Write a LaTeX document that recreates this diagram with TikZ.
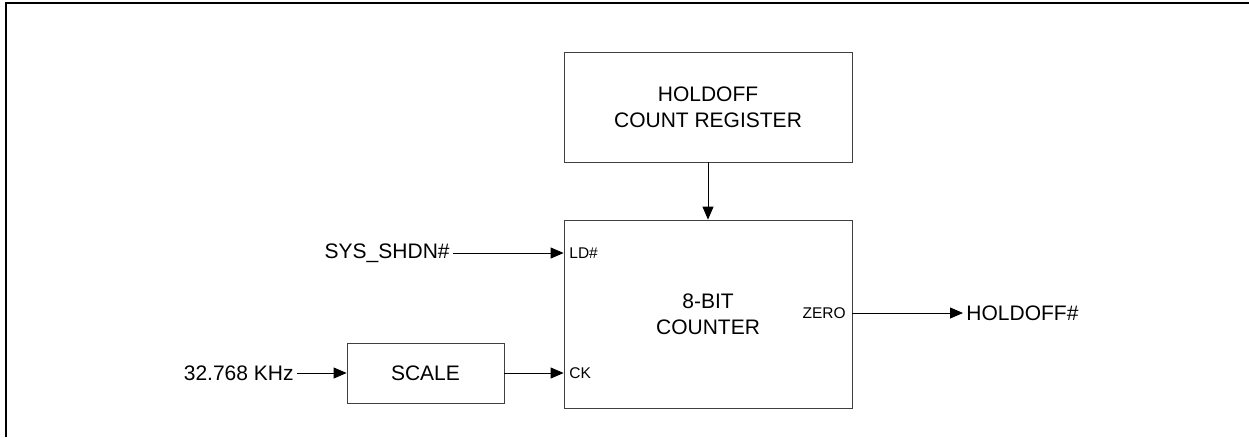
\documentclass[tikz,border=0pt]{standalone}
\usepackage{fontspec}
\setmainfont{Liberation Sans}
\usetikzlibrary{arrows.meta,positioning}

\begin{document}
\begin{tikzpicture}[x=1pt,y=-1pt,line width=0.8pt,>={Triangle[length=13pt,width=11pt]},
  blk/.style={draw=black!75,rectangle,align=center,inner sep=0pt,
    font=\fontsize{21}{26}\selectfont},
  lbl/.style={inner sep=3pt,font=\fontsize{21}{26}\selectfont},
  port/.style={inner sep=2pt,font=\fontsize{15.5}{18}\selectfont}]
  \useasboundingbox (0,0) rectangle (1249,437);
  % marco
  \draw[line width=2.4pt] (6,437)--(6,3)--(1249,3);
  % bloques
  \node[blk,minimum width=288pt,minimum height=110pt] (reg) at (708,107) {HOLDOFF\\COUNT REGISTER};
  \node[blk,minimum width=288pt,minimum height=188pt] (cnt) at (708,314) {8-BIT\\COUNTER};
  \node[blk,minimum width=157pt,minimum height=60pt] (scale) at (425.5,373) {SCALE};
  % puertos
  \node[port,anchor=west] (ld) at (567,253) {LD\#};
  \node[port,anchor=west] (ck) at (567,373) {CK};
  \node[port,anchor=east] (zero) at (848,313) {ZERO};
  % senales
  \node[lbl,anchor=east] (sys) at (453,253) {SYS\_SHDN\#};
  \node[lbl,anchor=east] (clk) at (297,373) {32.768 KHz};
  \node[lbl,anchor=west] (hold) at (963,313) {HOLDOFF\#};
  % conexiones
  \draw[->] (reg.south)--(cnt.north);
  \draw[->] (sys.east)--(cnt.west |- sys.east);
  \draw[->] (clk.east)--(scale.west);
  \draw[->] (scale.east)--(cnt.west |- scale.east);
  \draw[->] (cnt.east |- hold.west)--(hold.west);
\end{tikzpicture}
\end{document}
